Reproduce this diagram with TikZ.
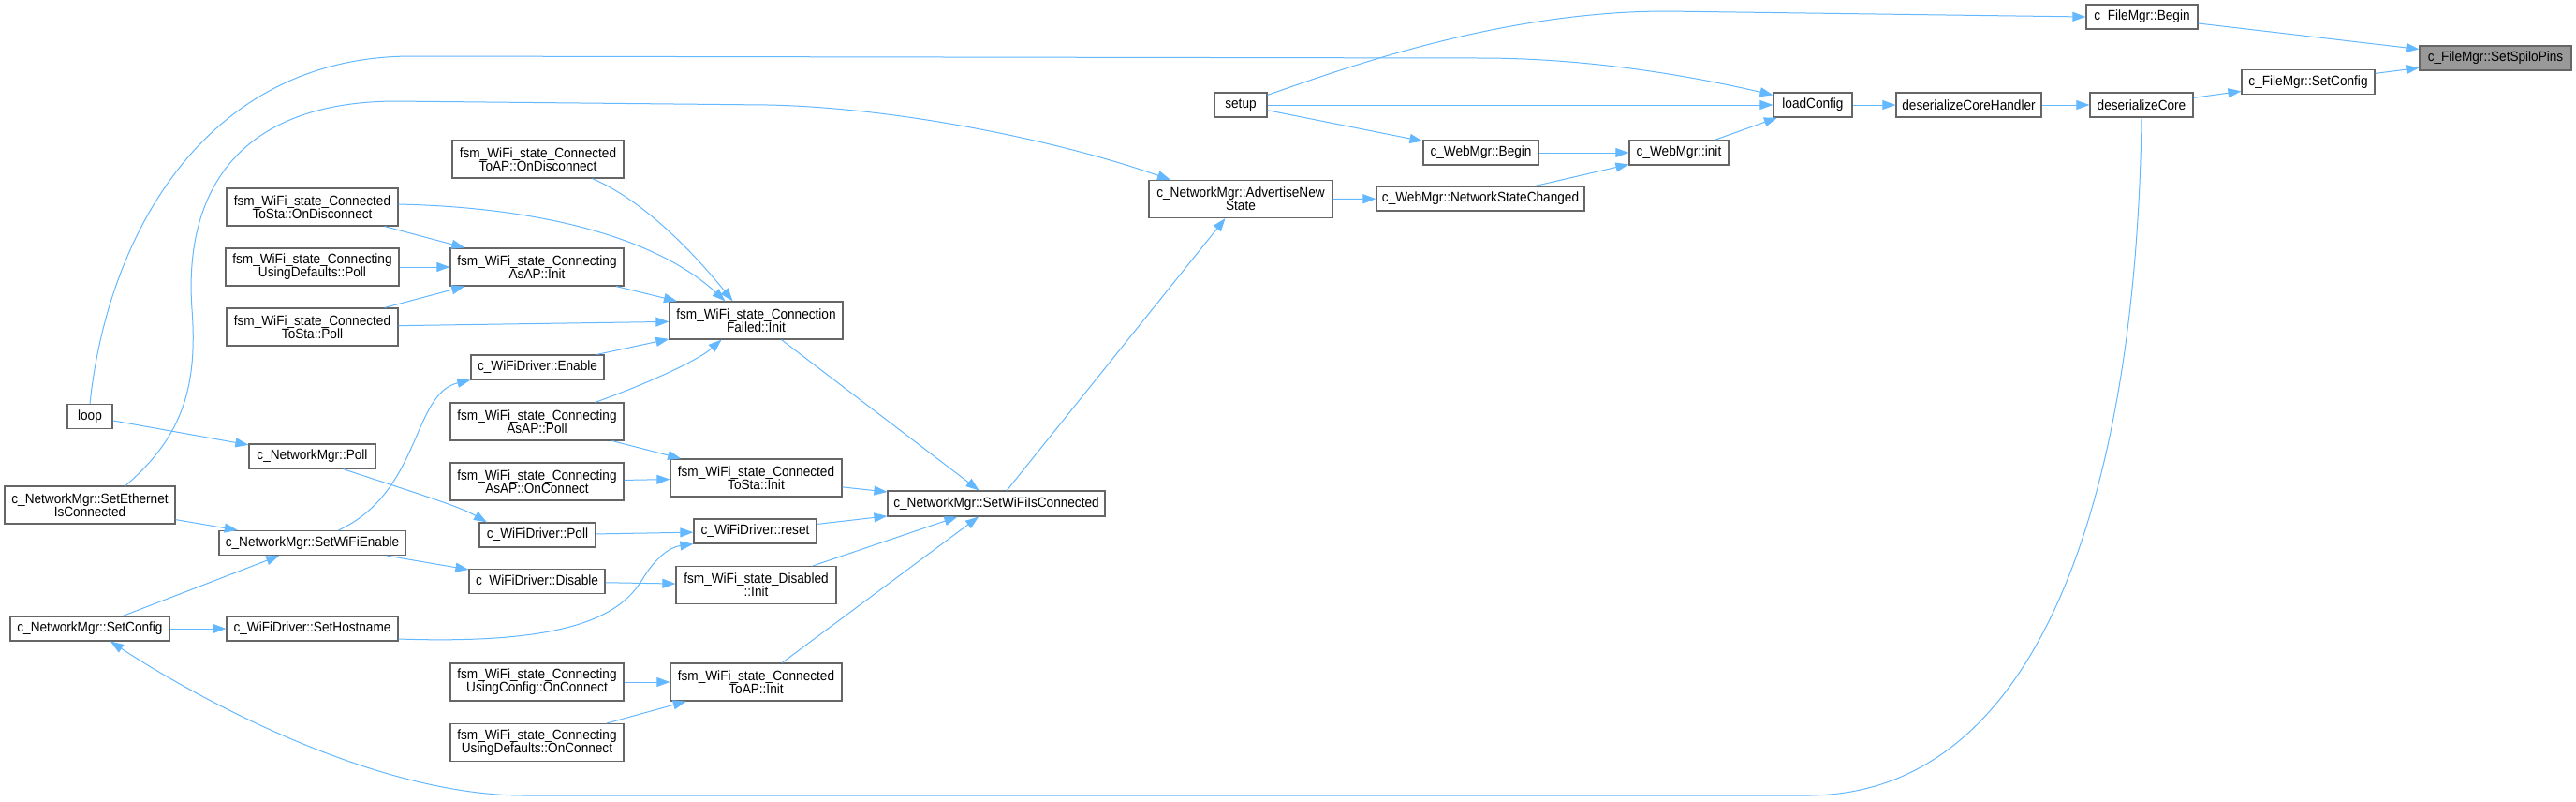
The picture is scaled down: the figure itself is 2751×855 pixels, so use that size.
\documentclass[tikz,border=0pt]{standalone}
\usepackage{fontspec}
\setmainfont{Liberation Sans}[FakeStretch=0.92]
\usetikzlibrary{arrows.meta}
\definecolor{edgeblue}{HTML}{63B8FF}
\definecolor{nodeborder}{HTML}{666666}
\definecolor{rootfill}{HTML}{999999}
\begin{document}
\begin{tikzpicture}[x=1pt,y=-1pt,
  box/.style={draw=nodeborder, fill=white, line width=1.2pt, inner sep=0pt, align=center,
    font=\fontsize{14.8}{14.3}\selectfont, minimum height=26pt},
  two/.style={minimum height=40pt},
  edge/.style={draw=edgeblue, line width=1.0pt, -{Triangle[length=14pt,width=10pt]}}]
\fill[white] (0,0) rectangle (2751,855);
\useasboundingbox (0,0) rectangle (2751,855);
% nodes
\node[box, fill=rootfill, minimum width=162pt] (spilo) at (2665,62) {c\_FileMgr::SetSpiloPins};
\node[box, minimum width=119pt] (fbegin) at (2287.5,18) {c\_FileMgr::Begin};
\node[box, minimum width=142pt] (fsetcfg) at (2465,87.5) {c\_FileMgr::SetConfig};
\node[box, minimum width=110pt] (dcore) at (2287,112) {deserializeCore};
\node[box, minimum width=155pt] (dcoreh) at (2102.5,112) {deserializeCoreHandler};
\node[box, minimum width=84pt] (loadcfg) at (1936,112) {loadConfig};
\node[box, minimum width=56pt] (setup) at (1325,112) {setup};
\node[box, minimum width=123pt] (wbegin) at (1581.5,163) {c\_WebMgr::Begin};
\node[box, minimum width=106pt] (winit) at (1793,163) {c\_WebMgr::init};
\node[box, two, minimum width=196pt] (adv) at (1325,212.5) {c\_NetworkMgr::AdvertiseNew\\State};
\node[box, minimum width=222pt] (nsc) at (1581,212) {c\_WebMgr::NetworkStateChanged};
\node[box, two, minimum width=183pt] (apdisc) at (574.5,170) {fsm\_WiFi\_state\_Connected\\ToAP::OnDisconnect};
\node[box, two, minimum width=183pt] (stadisc) at (333.5,221) {fsm\_WiFi\_state\_Connected\\ToSta::OnDisconnect};
\node[box, two, minimum width=185pt] (udpoll) at (333.5,285) {fsm\_WiFi\_state\_Connecting\\UsingDefaults::Poll};
\node[box, two, minimum width=185pt] (asapinit) at (573.5,285) {fsm\_WiFi\_state\_Connecting\\AsAP::Init};
\node[box, two, minimum width=183pt] (stapoll) at (333.5,349) {fsm\_WiFi\_state\_Connected\\ToSta::Poll};
\node[box, two, minimum width=185pt] (cfinit) at (807.5,342) {fsm\_WiFi\_state\_Connection\\Failed::Init};
\node[box, minimum width=142pt] (enable) at (574,392) {c\_WiFiDriver::Enable};
\node[box, two, minimum width=185pt] (asappoll) at (573.5,450) {fsm\_WiFi\_state\_Connecting\\AsAP::Poll};
\node[box, minimum width=48pt] (loop) at (96,444.5) {loop};
\node[box, minimum width=135pt] (npoll) at (333.5,487) {c\_NetworkMgr::Poll};
\node[box, two, minimum width=182pt] (seteth) at (96,539) {c\_NetworkMgr::SetEthernet\\IsConnected};
\node[box, minimum width=199pt] (wifien) at (333.5,579.5) {c\_NetworkMgr::SetWiFiEnable};
\node[box, two, minimum width=185pt] (asapconn) at (573.5,514) {fsm\_WiFi\_state\_Connecting\\AsAP::OnConnect};
\node[box, minimum width=124pt] (wpoll) at (574,571) {c\_WiFiDriver::Poll};
\node[box, minimum width=145pt] (disable) at (573.5,620.5) {c\_WiFiDriver::Disable};
\node[box, minimum width=170pt] (nsetcfg) at (96,671) {c\_NetworkMgr::SetConfig};
\node[box, minimum width=183pt] (sethost) at (333.5,671) {c\_WiFiDriver::SetHostname};
\node[box, two, minimum width=185pt] (ucconn) at (573.5,728) {fsm\_WiFi\_state\_Connecting\\UsingConfig::OnConnect};
\node[box, two, minimum width=185pt] (udconn) at (573.5,792.5) {fsm\_WiFi\_state\_Connecting\\UsingDefaults::OnConnect};
\node[box, two, minimum width=183pt] (stainit) at (807.5,510) {fsm\_WiFi\_state\_Connected\\ToSta::Init};
\node[box, minimum width=131pt] (reset) at (806.5,567) {c\_WiFiDriver::reset};
\node[box, two, minimum width=171pt] (disinit) at (807.5,624.5) {fsm\_WiFi\_state\_Disabled\\::Init};
\node[box, two, minimum width=183pt] (apinit) at (807.5,728) {fsm\_WiFi\_state\_Connected\\ToAP::Init};
\node[box, minimum width=232pt, minimum height=27pt] (wific) at (1064,537.5) {c\_NetworkMgr::SetWiFiIsConnected};
% edges
\draw[edge] (fbegin) -- (spilo);
\draw[edge] (fsetcfg) -- (spilo);
\draw[edge] (dcore) -- (fsetcfg);
\draw[edge] (dcoreh) -- (dcore);
\draw[edge] (loadcfg) -- (dcoreh);
\draw[edge] (setup) -- (loadcfg);
\draw[edge] ([yshift=-3pt]setup.north east) .. controls (1430,75) and (1600,12) .. (1780,12) -- (fbegin.west);
\draw[edge] (setup) -- (wbegin);
\draw[edge] (wbegin) -- (winit);
\draw[edge] (winit) -- (loadcfg);
\draw[edge] (nsc) -- (winit);
\draw[edge] (adv) -- (nsc);
\draw[edge] (loop.north) .. controls (115,250) and (220,60) .. (440,60) -- (1580,62) .. controls (1700,62) and (1810,82) .. ([yshift=-3pt]loadcfg.north west);
\draw[edge] ([xshift=38pt]seteth.north) .. controls (190,470) and (212,420) .. (205,330) .. controls (197,220) and (240,110) .. (420,108) -- (820,112) .. controls (960,115) and (1130,150) .. ([xshift=-75pt]adv.north);
\draw[edge] (dcore.south) .. controls (2282,500) and (2190,849) .. (1930,849) -- (560,849) .. controls (400,849) and (210,745) .. ([xshift=22pt]nsetcfg.south);
\draw[edge] (wific) -- (adv);
\draw[edge] (cfinit) -- (wific);
\draw[edge] (stainit) -- (wific);
\draw[edge] (reset) -- (wific);
\draw[edge] (disinit) -- (wific);
\draw[edge] (apinit) -- (wific);
\draw[edge] ([xshift=58pt]apdisc.south) .. controls (690,215) and (745,275) .. ([xshift=-25pt]cfinit.north);
\draw[edge] ([yshift=3pt]stadisc.east) .. controls (600,222) and (710,262) .. ([xshift=-33pt]cfinit.north);
\draw[edge] (stadisc) -- (asapinit);
\draw[edge] (udpoll) -- (asapinit);
\draw[edge] (stapoll) -- (asapinit);
\draw[edge] (stapoll) -- (cfinit);
\draw[edge] (asapinit) -- (cfinit);
\draw[edge] (enable) -- (cfinit);
\draw[edge] ([xshift=62pt]asappoll.north) .. controls (690,410) and (745,385) .. ([xshift=-37pt]cfinit.south);
\draw[edge] (asappoll) -- (stainit);
\draw[edge] (asapconn) -- (stainit);
\draw[edge] (loop) -- (npoll);
\draw[edge] ([xshift=33pt]npoll.south) .. controls (440,525) and (490,540) .. ([xshift=-54pt]wpoll.north);
\draw[edge] (seteth) -- (wifien);
\draw[edge] (nsetcfg) -- (wifien);
\draw[edge] (nsetcfg) -- (sethost);
\draw[edge] ([xshift=28pt]wifien.north) .. controls (450,525) and (440,420) .. (enable.south west);
\draw[edge] (wifien) -- (disable);
\draw[edge] (wpoll) -- (reset);
\draw[edge] (disable) -- (disinit);
\draw[edge] ([yshift=-11pt]sethost.east) .. controls (600,688) and (660,660) .. (685,620) .. controls (700,595) and (715,584) .. (reset.south west);
\draw[edge] (ucconn) -- (apinit);
\draw[edge] (udconn) -- (apinit);
\end{tikzpicture}
\end{document}
